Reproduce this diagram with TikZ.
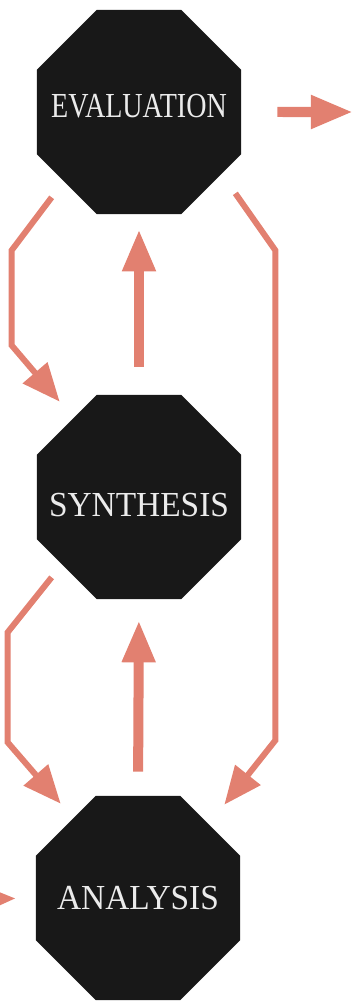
\documentclass[tikz,border=0pt]{standalone}
\usepackage{fontspec}
\usepackage{xcolor}
\usepackage{graphicx}
\usepackage{tikz}
\usetikzlibrary{arrows.meta, shapes.geometric}
\newfontfamily\octfont[FakeStretch=0.95]{Liberation Serif}
\definecolor{salmonpink}{RGB}{226,128,112}
\definecolor{octblack}{RGB}{24,24,24}

\begin{document}
\begin{tikzpicture}[x=0.025cm, y=-0.025cm,
  stage/.style={regular polygon, regular polygon sides=8, minimum size=5.52cm, inner sep=0pt, fill=octblack, text=white!92!black, font=\octfont\fontsize{25}{28}\selectfont},
  flow/.style={-{Triangle[length=1.05cm, width=0.78cm]}, line width=0.25cm, salmonpink},
  feedback/.style={-{Triangle[length=0.95cm, width=0.78cm]}, line width=0.15cm, salmonpink, line join=miter}
]
\useasboundingbox (0,0) rectangle (357,1005);
\node[stage] (eval) at (139,112) {\makebox[0pt]{\raisebox{0.16cm}[0.58cm][0pt]{\scalebox{0.84}[1]{EVALUATION}}}};
\node[stage] (synth) at (139,497) {\makebox[0pt]{\raisebox{-0.2cm}[0.58cm][0pt]{SYNTHESIS}}};
\node[stage] (anal) at (138,898) {\makebox[0pt]{ANALYSIS}};
\coordinate (out) at (353,112);
\coordinate (in) at (-60,900);
\draw[flow, shorten <=0.9cm] (eval.east) -- (out);
\draw[flow, shorten >=0.475cm] (in) -- (anal.west);
\draw[flow, shorten <=0.7cm, shorten >=0.375cm] (synth.north) -- (eval.south);
\draw[flow, shorten <=0.6cm, shorten >=0.525cm] (anal.north) -- (synth.south);
\draw[feedback] ([shift={(-15,13)}]eval.225) -- ++(-40,53) -- ++(0,95) -- ([shift={(-7,-23)}]synth.135);
\draw[feedback] ([shift={(-15,8)}]synth.225) -- ++(-44,55) -- ++(0,110) -- ([shift={(-5,-22)}]anal.135);
\draw[feedback] ([shift={(24,9)}]eval.315) -- ++(40,57) -- ++(0,490) -- ([shift={(14,-21)}]anal.45);
\end{tikzpicture}
\end{document}
